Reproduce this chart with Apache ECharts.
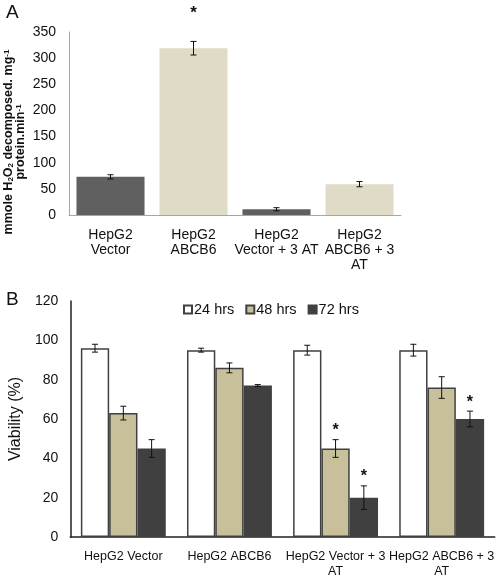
<!DOCTYPE html>
<html><head><meta charset="utf-8">
<script src="https://cdn.jsdelivr.net/npm/echarts@6/dist/echarts.min.js"></script>
<style>html,body{margin:0;padding:0;background:#fff}#c{width:497px;height:579px}</style>
</head><body><div id="c"></div>
<script>
// Panel A
const catsA = ['HepG2\nVector', 'HepG2\nABCB6', 'HepG2\nVector + 3 AT', 'HepG2\nABCB6 + 3\nAT'];
const valsA = [73, 319, 11, 59];
const errA = [4, 13, 3, 5];
const sigA = [0, 1, 0, 0];
const ticksA = {min: 0, max: 350, interval: 50};
// Panel B
const catsB = ['HepG2 Vector', 'HepG2 ABCB6', 'HepG2 Vector + 3\nAT', 'HepG2 ABCB6 + 3\nAT'];
const seriesNamesB = ['24 hrs', '48 hrs', '72 hrs'];
const v24 = [96, 95, 95, 95];
const e24 = [2, 1, 2.5, 3];
const v48 = [63, 86, 45, 76];
const e48 = [3.5, 2.5, 4.5, 5.5];
const v72 = [45, 77, 20, 60];
const e72 = [4.5, 0.5, 6, 4];
const sig24 = [0, 0, 0, 0];
const sig48 = [0, 0, 1, 0];
const sig72 = [0, 0, 1, 1];
const ticksB = {min: 0, max: 120, interval: 20};

const FONT = 'Liberation Sans, Arial, sans-serif';
const darkA = '#606060', tanA = '#e0dbc6';
const colorsB = ['#ffffff', '#c8c09a', '#404040'];

function pack(v, e, s) { return v.map((x, i) => [i, x, e[i], s[i]]); }

function errRender(idx, n, gapFrac, starGap, starSize) {
  return function (params, api) {
    const i = api.value(0), v = api.value(1), e = api.value(2), s = api.value(3);
    let x = api.coord([i, v])[0];
    if (n > 1) {
      const band = api.size([1, 0])[0];
      const usable = band * (1 - gapFrac);
      const bw = usable / n;
      x = x - usable / 2 + bw * (idx + 0.5);
    }
    const yT = api.coord([i, v + e])[1];
    const yB = api.coord([i, v - e])[1];
    const cap = 3;
    const st = {stroke: '#111', lineWidth: 1};
    const children = [
      {type: 'line', shape: {x1: x, y1: yT, x2: x, y2: yB}, style: st},
      {type: 'line', shape: {x1: x - cap, y1: yT, x2: x + cap, y2: yT}, style: st},
      {type: 'line', shape: {x1: x - cap, y1: yB, x2: x + cap, y2: yB}, style: st}
    ];
    if (s) {
      children.push({type: 'text', style: {text: '*', x: x, y: yT - starGap, align: 'center', verticalAlign: 'bottom',
        font: 'bold ' + starSize + 'px ' + FONT, fill: '#111'}});
    }
    return {type: 'group', children: children};
  };
}

const chart = echarts.init(document.getElementById('c'), null, {renderer: 'canvas'});
chart.setOption({
  animation: false,
  backgroundColor: '#fff',
  title: [
    {text: 'A', left: 1, top: -2, textStyle: {fontFamily: FONT, fontSize: 19, fontWeight: 'normal', color: '#111'}},
    {text: 'B', left: 1, top: 285, textStyle: {fontFamily: FONT, fontSize: 19, fontWeight: 'normal', color: '#111'}}
  ],
  graphic: [{
    type: 'text', x: 15, y: 142, rotation: Math.PI / 2,
    style: {
      text: 'mmole H{sub|2}O{sub|2} decomposed. mg{sup|-1}\nprotein.min{sup|-1}',
      align: 'center', verticalAlign: 'middle',
      font: 'bold 12.5px ' + FONT, fill: '#111', lineHeight: 12,
      rich: {
        sub: {fontSize: 8, fontWeight: 'bold', fontFamily: FONT, verticalAlign: 'bottom', lineHeight: 12, padding: [5, 0, 0, 0]},
        sup: {fontSize: 8, fontWeight: 'bold', fontFamily: FONT, verticalAlign: 'top', lineHeight: 12, padding: [0, 0, 5, 0]}
      }
    }
  }],
  legend: {
    top: 297, left: 178, itemWidth: 8, itemHeight: 8, itemGap: 11,
    icon: 'rect',
    textStyle: {fontFamily: FONT, fontSize: 14.5, color: '#111', padding: [0, 0, 0, -3]},
    data: seriesNamesB
  },
  grid: [
    {left: 69, top: 32, width: 332, height: 183},
    {left: 69, top: 301, right: 1, height: 241}
  ],
  xAxis: [
    {type: 'category', gridIndex: 0, data: catsA,
     axisLine: {lineStyle: {color: '#a6a6a6', width: 1}}, axisTick: {show: false},
     axisLabel: {fontFamily: FONT, fontSize: 14, color: '#111', margin: 13, lineHeight: 15, interval: 0}},
    {type: 'category', gridIndex: 1, data: catsB,
     axisLine: {lineStyle: {color: '#222', width: 1.5}}, axisTick: {show: false},
     axisLabel: {fontFamily: FONT, fontSize: 12.5, color: '#111', margin: 12, lineHeight: 15, interval: 0}}
  ],
  yAxis: [
    {type: 'value', gridIndex: 0, min: ticksA.min, max: ticksA.max, interval: ticksA.interval,
     splitLine: {show: false}, axisTick: {show: false},
     axisLine: {show: true, lineStyle: {color: '#a6a6a6', width: 1}},
     axisLabel: {fontFamily: FONT, fontSize: 14, color: '#111', margin: 13}},
    {type: 'value', gridIndex: 1, min: ticksB.min, max: ticksB.max, interval: ticksB.interval,
     name: 'Viability (%)', nameLocation: 'middle', nameGap: 34,
     nameTextStyle: {fontFamily: FONT, fontSize: 16, color: '#111'},
     splitLine: {show: false}, axisTick: {show: false},
     axisLine: {show: true, lineStyle: {color: '#222', width: 1.5}},
     axisLabel: {fontFamily: FONT, fontSize: 14, color: '#111', margin: 12}}
  ],
  series: [
    {type: 'bar', xAxisIndex: 0, yAxisIndex: 0, data: valsA, barCategoryGap: '18%',
     itemStyle: {color: p => (p.dataIndex % 2 ? tanA : darkA)}},
    {type: 'custom', xAxisIndex: 0, yAxisIndex: 0, data: pack(valsA, errA, sigA),
     encode: {x: 0, y: 1}, renderItem: errRender(0, 1, 0, 20, 17), z: 5},
    {type: 'bar', name: seriesNamesB[0], xAxisIndex: 1, yAxisIndex: 1, data: v24, barGap: '0%', barCategoryGap: '20%',
     itemStyle: {color: colorsB[0], borderColor: '#404040', borderWidth: 1.5}},
    {type: 'bar', name: seriesNamesB[1], xAxisIndex: 1, yAxisIndex: 1, data: v48, barGap: '0%', barCategoryGap: '20%',
     itemStyle: {color: colorsB[1], borderColor: '#404040', borderWidth: 1.5}},
    {type: 'bar', name: seriesNamesB[2], xAxisIndex: 1, yAxisIndex: 1, data: v72, barGap: '0%', barCategoryGap: '20%',
     itemStyle: {color: colorsB[2], borderColor: '#404040', borderWidth: 1.5}},
    {type: 'custom', xAxisIndex: 1, yAxisIndex: 1, data: pack(v24, e24, sig24),
     encode: {x: 0, y: 1}, renderItem: errRender(0, 3, 0.2, 1, 16), z: 5},
    {type: 'custom', xAxisIndex: 1, yAxisIndex: 1, data: pack(v48, e48, sig48),
     encode: {x: 0, y: 1}, renderItem: errRender(1, 3, 0.2, 1, 16), z: 5},
    {type: 'custom', xAxisIndex: 1, yAxisIndex: 1, data: pack(v72, e72, sig72),
     encode: {x: 0, y: 1}, renderItem: errRender(2, 3, 0.2, 1, 16), z: 5}
  ]
});
</script>
</body></html>
